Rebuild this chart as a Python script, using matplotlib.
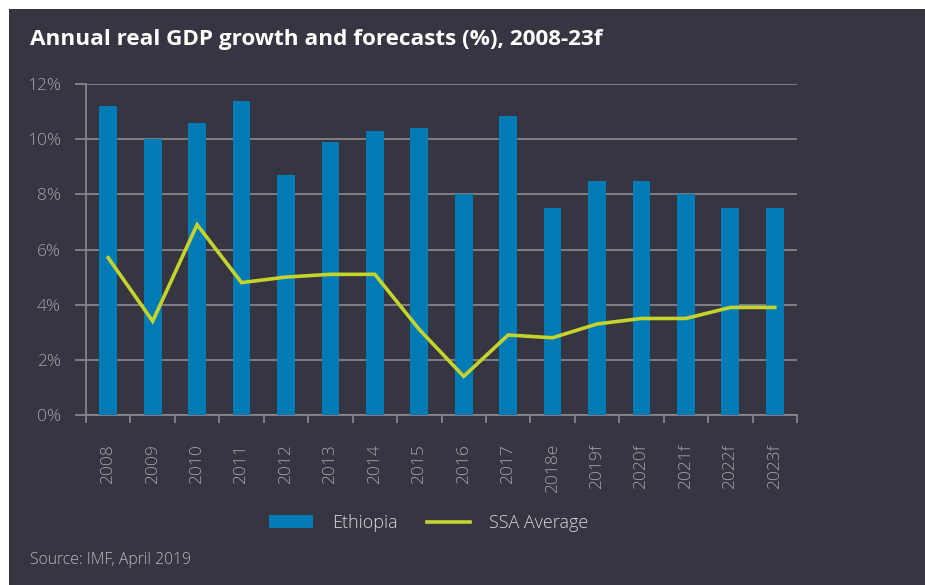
import numpy as np
import matplotlib
matplotlib.use("Agg")
from matplotlib import pyplot as plt
from matplotlib.patches import Rectangle

years = ['2008', '2009', '2010', '2011', '2012', '2013', '2014', '2015',
         '2016', '2017', '2018e', '2019f', '2020f', '2021f', '2022f', '2023f']
ethiopia = [11.2, 10.0, 10.6, 11.4, 8.7, 9.9, 10.3, 10.4,
            8.0, 10.85, 7.5, 8.5, 8.5, 8.0, 7.5, 7.5]
ssa = [5.7, 3.4, 6.9, 4.8, 5.0, 5.1, 5.1, 3.1,
       1.4, 2.9, 2.8, 3.3, 3.5, 3.5, 3.9, 3.9]
yticks = [0, 2, 4, 6, 8, 10, 12]

bg = '#353641'
bar_col = '#007bb5'
line_col = '#c5d32b'
grid_col = '#8b8b91'
txt_col = '#a3a4ab'

plt.rcParams['font.family'] = ['Open Sans', 'DejaVu Sans']
plt.rcParams['font.weight'] = 'light'

fig = plt.figure(figsize=(9.25, 5.85), dpi=100)
fig.patch.set_facecolor('white')
fig.patches.append(Rectangle((9/925, 0), 1, 1 - 9/585, transform=fig.transFigure,
                             facecolor=bg, edgecolor='none', zorder=-10))

ax = fig.add_axes([86/925, 1 - 415/585, 711/925, 331/585])
ax.patch.set_alpha(0)

x = np.arange(len(years))
bars = ax.bar(x, ethiopia, width=0.4, color=bar_col, zorder=3, label='Ethiopia')
line, = ax.plot(x, ssa, color=line_col, lw=2.6, zorder=4, label='SSA Average',
                solid_joinstyle='miter')

ax.set_xlim(-0.5, len(years) - 0.5)
ax.set_ylim(0, 12)

ax.set_yticks(yticks)
ax.set_yticklabels([f'{v}%' for v in yticks])
ax.yaxis.grid(True, color=grid_col, lw=1.2, zorder=1)
ax.set_axisbelow(True)
ax.tick_params(axis='y', length=8, width=1.2, color=grid_col, pad=10,
               labelsize=12.5, labelcolor=txt_col)

ax.set_xticks(np.arange(-0.5, len(years), 1))
ax.set_xticklabels([])
ax.set_xticks(x, minor=True)
ax.set_xticklabels(years, minor=True, rotation=90)
ax.tick_params(axis='x', which='major', length=6, width=1.2, color=grid_col)
ax.tick_params(axis='x', which='minor', length=0, pad=21,
               labelsize=12.5, labelcolor=txt_col)

for s in ['top', 'right']:
    ax.spines[s].set_visible(False)
for s in ['left', 'bottom']:
    ax.spines[s].set_color(grid_col)
    ax.spines[s].set_linewidth(1.2)

fig.legend([bars, line], ['Ethiopia', 'SSA Average'], loc='center',
           bbox_to_anchor=(429/925, 1 - 523/585), ncol=2,
           frameon=False, fontsize=13, labelcolor='#d8d9de',
           handlelength=2.4, handleheight=0.7, handletextpad=1.05,
           columnspacing=1.65)

fig.text(30/925, 1 - 40/585, 'Annual real GDP growth and forecasts (%), 2008-23f',
         color='white', fontsize=16.2, fontweight='bold', va='center', ha='left')
fig.text(30/925, 1 - 560/585, 'Source: IMF, April 2019', color='#b8b9bf',
         fontsize=11.3, va='center', ha='left')

fig.savefig('out.png', dpi=100, facecolor=fig.get_facecolor())
